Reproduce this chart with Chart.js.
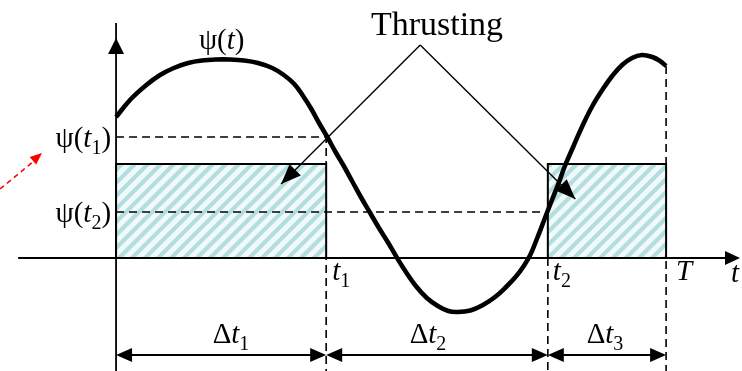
<!DOCTYPE html>
<html lang="en">
<head>
<meta charset="UTF-8" />
<title>Thrusting intervals</title>
<script src="https://cdn.jsdelivr.net/npm/chart.js"></script>
<style>
  html, body { margin: 0; padding: 0; background: #fff; }
  #wrap { width: 742px; height: 371px; }
</style>
</head>
<body>
<div id="wrap"><canvas id="chart" width="742" height="371"></canvas></div>
<script>
// switching instants (time measured from the origin, period T = 10)
const T = 10;
const t1 = 3.82;
const t2 = 7.85;
// levels
const psiT1 = 2.42;
const psiT2 = 0.92;
const thrustLevel = 1.88;

// psi(t) along one period
const curveT = [0, 0.27, 0.55, 0.8, 1.05, 1.31, 1.56, 1.82, 2.07, 2.33, 2.58, 2.84, 3.05,
  3.24, 3.4, 3.55, 3.69, 3.84, 3.98, 4.13, 4.29, 4.45, 4.62, 4.78, 4.95, 5.11, 5.27, 5.45,
  5.65, 5.85, 6.04, 6.2, 6.44, 6.67, 6.89, 7.09, 7.27, 7.4, 7.53, 7.65, 7.78, 7.91, 8.04,
  8.16, 8.31, 8.47, 8.65, 8.84, 9.02, 9.2, 9.38, 9.56, 9.75, 9.89, 10];
const curvePsi = [2.82, 3.18, 3.46, 3.66, 3.8, 3.9, 3.95, 3.97, 3.97, 3.95, 3.9, 3.8, 3.66,
  3.48, 3.24, 2.98, 2.7, 2.42, 2.14, 1.86, 1.54, 1.22, 0.9, 0.6, 0.3, 0, -0.28, -0.56,
  -0.8, -0.96, -1.06, -1.08, -1.05, -0.94, -0.78, -0.58, -0.37, -0.18, 0.06, 0.38, 0.75,
  1.12, 1.48, 1.84, 2.22, 2.62, 3.02, 3.36, 3.64, 3.86, 4.0, 4.06, 4.02, 3.94, 3.84];

// plot window
const tMin = -2.11, tMax = 11.38;
const psiMin = -2.26, psiMax = 5.16;

const SERIF = '"Liberation Serif", "Times New Roman", serif';
const LABEL = 29;

const canvas = document.getElementById('chart');
const ctx0 = canvas.getContext('2d');

function hatch() {
  const n = 13;
  const c = document.createElement('canvas');
  c.width = n; c.height = n;
  const g = c.getContext('2d');
  g.fillStyle = '#f1f9f9';
  g.fillRect(0, 0, n, n);
  g.strokeStyle = '#b2dee0';
  g.lineWidth = 4.2;
  g.beginPath();
  for (const o of [-n, 0, n]) {
    g.moveTo(o - 2, n + 2); g.lineTo(o + n + 2, -2);
  }
  g.stroke();
  return ctx0.createPattern(c, 'repeat');
}

const pts = (xs, ys) => xs.map((x, i) => ({ x: x, y: ys[i] }));
const seg = (o) => Object.assign({
  type: 'line', pointRadius: 0, tension: 0, borderColor: '#000', borderWidth: 2, fill: false
}, o);

// arrow pointing from 'Thrusting' into each thrust box
const pointerTop = { x: 5.53, y: 4.26 };
const pointerL = { x: 3.0, y: 1.48 };
const pointerR = { x: 8.35, y: 1.18 };
const spanRow = -1.94;

function head(ctx, x, y, ang, len, half, color) {
  ctx.save();
  ctx.translate(x, y);
  ctx.rotate(ang);
  ctx.fillStyle = color || '#000';
  ctx.beginPath();
  ctx.moveTo(0, 0);
  ctx.lineTo(-len, -half);
  ctx.lineTo(-len, half);
  ctx.closePath();
  ctx.fill();
  ctx.restore();
}

// draws mixed runs: [text, kind] with kind '' upright, 'i' italic, 's' subscript
function rich(ctx, parts, x, y, align, size) {
  const sub = Math.round(size * 0.7);
  const fontOf = (k) => k === 'i' ? 'italic ' + size + 'px ' + SERIF
    : k === 's' ? sub + 'px ' + SERIF : size + 'px ' + SERIF;
  let w = 0;
  parts.forEach(([s, k]) => { ctx.font = fontOf(k); w += ctx.measureText(s).width; });
  let cx = align === 'right' ? x - w : align === 'center' ? x - w / 2 : x;
  ctx.fillStyle = '#000';
  ctx.textBaseline = 'alphabetic';
  ctx.textAlign = 'left';
  parts.forEach(([s, k]) => {
    ctx.font = fontOf(k);
    ctx.fillText(s, cx, k === 's' ? y + size * 0.25 : y);
    cx += ctx.measureText(s).width;
  });
}

const decorations = {
  id: 'decorations',
  afterDatasetsDraw(chart) {
    const ctx = chart.ctx;
    const xs = chart.scales.x, ys = chart.scales.y;
    const px = (v) => xs.getPixelForValue(v);
    const py = (v) => ys.getPixelForValue(v);

    // axis arrowheads
    head(ctx, px(tMax) - 2, py(0), 0, 15, 7);
    head(ctx, px(0), 38, -Math.PI / 2, 16, 8);

    // pointer heads
    const a1 = Math.atan2(py(pointerL.y) - py(pointerTop.y), px(pointerL.x) - px(pointerTop.x));
    const a2 = Math.atan2(py(pointerR.y) - py(pointerTop.y), px(pointerR.x) - px(pointerTop.x));
    head(ctx, px(pointerL.x), py(pointerL.y), a1, 20, 8);
    head(ctx, px(pointerR.x), py(pointerR.y), a2, 20, 8);

    // interval spans
    const yRow = py(spanRow);
    const marks = [0, t1, t2, T];
    ctx.strokeStyle = '#000';
    ctx.lineWidth = 2;
    for (let i = 0; i < 3; i++) {
      const xa = px(marks[i]), xb = px(marks[i + 1]);
      ctx.beginPath();
      ctx.moveTo(xa + 10, yRow);
      ctx.lineTo(xb - 10, yRow);
      ctx.stroke();
      head(ctx, xa, yRow, Math.PI, 16, 7);
      head(ctx, xb, yRow, 0, 16, 7);
    }

    // red dashed pointer at the left edge
    ctx.save();
    ctx.strokeStyle = '#ff0000';
    ctx.lineWidth = 1.6;
    ctx.setLineDash([5, 4]);
    ctx.beginPath();
    ctx.moveTo(0, 189);
    ctx.lineTo(34, 161);
    ctx.stroke();
    ctx.restore();
    head(ctx, 42, 153, Math.atan2(-36, 42), 12, 5, '#ff0000');

    // labels
    rich(ctx, [['ψ(', ''], ['t', 'i'], [')', '']], px(1.92), 49, 'center', LABEL);
    ctx.font = '34px ' + SERIF;
    ctx.textAlign = 'center';
    ctx.fillStyle = '#000';
    ctx.fillText('Thrusting', 437, 35);
    rich(ctx, [['ψ(', ''], ['t', 'i'], ['1', 's'], [')', '']], px(0) - 5, py(psiT1) + 10, 'right', LABEL);
    rich(ctx, [['ψ(', ''], ['t', 'i'], ['2', 's'], [')', '']], px(0) - 5, py(psiT2) + 10, 'right', LABEL);
    rich(ctx, [['t', 'i'], ['1', 's']], px(t1) + 6, py(0) + 22, 'left', LABEL);
    rich(ctx, [['t', 'i'], ['2', 's']], px(t2) + 5, py(0) + 22, 'left', LABEL);
    rich(ctx, [['T', 'i']], px(T) + 10, py(0) + 22, 'left', LABEL);
    rich(ctx, [['t', 'i']], 731, py(0) + 24, 'left', LABEL);
    rich(ctx, [['Δ', ''], ['t', 'i'], ['1', 's']], 231, 343, 'center', LABEL);
    rich(ctx, [['Δ', ''], ['t', 'i'], ['2', 's']], 428, 343, 'center', LABEL);
    rich(ctx, [['Δ', ''], ['t', 'i'], ['3', 's']], 605, 343, 'center', LABEL);
  }
};

const pattern = hatch();

new Chart(canvas, {
  type: 'line',
  data: {
    datasets: [
      seg({ data: pts(curveT, curvePsi), borderWidth: 4.6, tension: 0.4, order: 0 }),
      seg({ data: [pointerTop, pointerL], borderWidth: 1.4, order: 1 }),
      seg({ data: [pointerTop, pointerR], borderWidth: 1.4, order: 1 }),
      // thrust boxes
      seg({ data: pts([0, 0, t1, t1], [0, thrustLevel, thrustLevel, 0]), fill: 'origin',
        backgroundColor: pattern, order: 3 }),
      seg({ data: pts([t2, t2, T, T], [0, thrustLevel, thrustLevel, 0]), fill: 'origin',
        backgroundColor: pattern, order: 3 }),
      // axes
      seg({ data: pts([-1.78, tMax - 0.2], [0, 0]), borderWidth: 1.8, order: 2 }),
      seg({ data: pts([0, 0], [psiMin, 4.7]), borderWidth: 1.8, order: 2 }),
      // dashed guides
      seg({ data: pts([0, t1, t1], [psiT1, psiT1, psiMin]), borderDash: [8, 5], borderWidth: 1.6, order: 4 }),
      seg({ data: pts([0, t2], [psiT2, psiT2]), borderDash: [8, 5], borderWidth: 1.6, order: 2 }),
      seg({ data: pts([t2, t2], [0, psiMin]), borderDash: [8, 5], borderWidth: 1.6, order: 4 }),
      seg({ data: pts([T, T], [curvePsi[curvePsi.length - 1], psiMin]), borderDash: [8, 5], borderWidth: 1.6, order: 4 })
    ]
  },
  options: {
    responsive: false,
    animation: false,
    devicePixelRatio: 1,
    layout: { padding: 0 },
    plugins: { legend: { display: false }, tooltip: { enabled: false } },
    scales: {
      x: { type: 'linear', min: tMin, max: tMax, display: false },
      y: { type: 'linear', min: psiMin, max: psiMax, display: false }
    },
    datasets: { line: { clip: false } }
  },
  plugins: [decorations]
});
</script>
</body>
</html>
